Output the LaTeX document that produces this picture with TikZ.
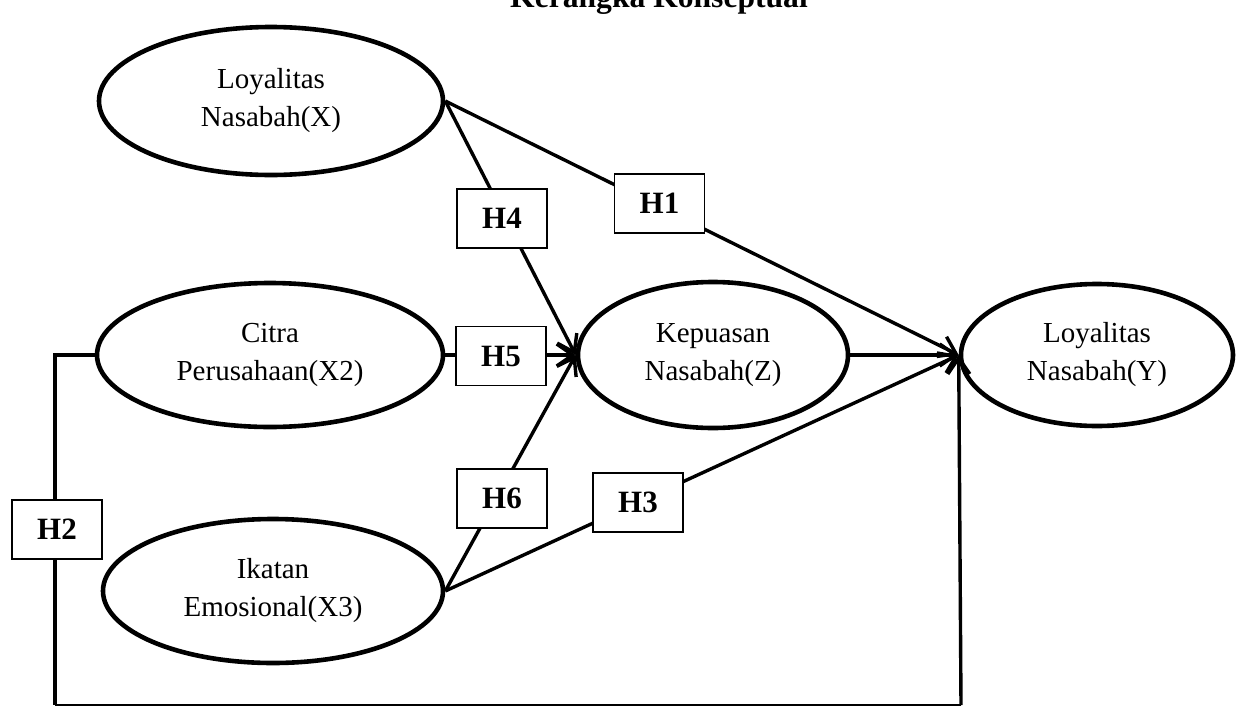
\documentclass[tikz,border=0pt]{standalone}
\usepackage{fontspec}
\setmainfont{Liberation Serif}
\usetikzlibrary{shapes.geometric,arrows.meta}
\tikzset{
  ell/.style={draw, line width=2.3pt, ellipse, inner sep=0pt, align=center,
    font=\fontsize{14.5}{19}\selectfont},
  hbox/.style={draw, line width=0.9pt, fill=white, minimum width=45pt,
    minimum height=29.5pt, inner sep=0pt, font=\fontsize{15.5}{18}\selectfont\bfseries},
  conn/.style={line width=1.7pt},
  thinconn/.style={line width=1.1pt},
  arr/.style={conn, -{Straight Barb[length=8pt,width=11pt]}}
}
\begin{document}
\begin{tikzpicture}[x=0.5pt,y=-0.5pt]
\useasboundingbox (0,0) rectangle (1243,707);
% title (partly cut off at top)
\node[anchor=base, inner sep=0pt, font=\fontsize{15.8}{19}\selectfont\bfseries] (title) at (659,7) {Kerangka Konseptual};
% ellipses
\node[ell, minimum width=172pt, minimum height=74pt] (X) at (271,101) {Loyalitas\\Nasabah(X)};
\node[ell, minimum width=173pt, minimum height=72pt] (C) at (270,355) {Citra\\Perusahaan(X2)};
\node[ell, minimum width=170pt, minimum height=72pt] (I) at (273,591) {Ikatan\\Emosional(X3)};
\node[ell, minimum width=135pt, minimum height=73pt] (K) at (713,355) {Kepuasan\\Nasabah(Z)};
\node[ell, minimum width=136pt, minimum height=71pt] (Y) at (1097,355) {Loyalitas\\Nasabah(Y)};
% connector corners
\coordinate (c1) at (55,355);
\coordinate (c2) at (55,705);
\coordinate (c3) at (961,705);
% connectors
\draw[arr] (X.east) -- (K.west);
\draw[arr] (X.east) -- (Y.west);
\draw[arr] (C.east) -- (K.west);
\draw[arr] (I.east) -- (K.west);
\draw[arr] (I.east) -- (Y.west);
\draw[arr] (K.east) -- (Y.west);
\draw[conn] (C.west) -- (c1) -- (c2);
\draw[thinconn] (c2) -- (c3);
\draw[arr] (c3) -- (Y.west);
% hypothesis boxes
\node[hbox] (H4) at (502,218.5) {H4};
\node[hbox] (H1) at (659.5,203.5) {H1};
\node[hbox] (H5) at (501,356) {H5};
\node[hbox] (H6) at (502,498.5) {H6};
\node[hbox] (H3) at (638,502.5) {H3};
\node[hbox] (H2) at (57,529.5) {H2};
\end{tikzpicture}
\end{document}
